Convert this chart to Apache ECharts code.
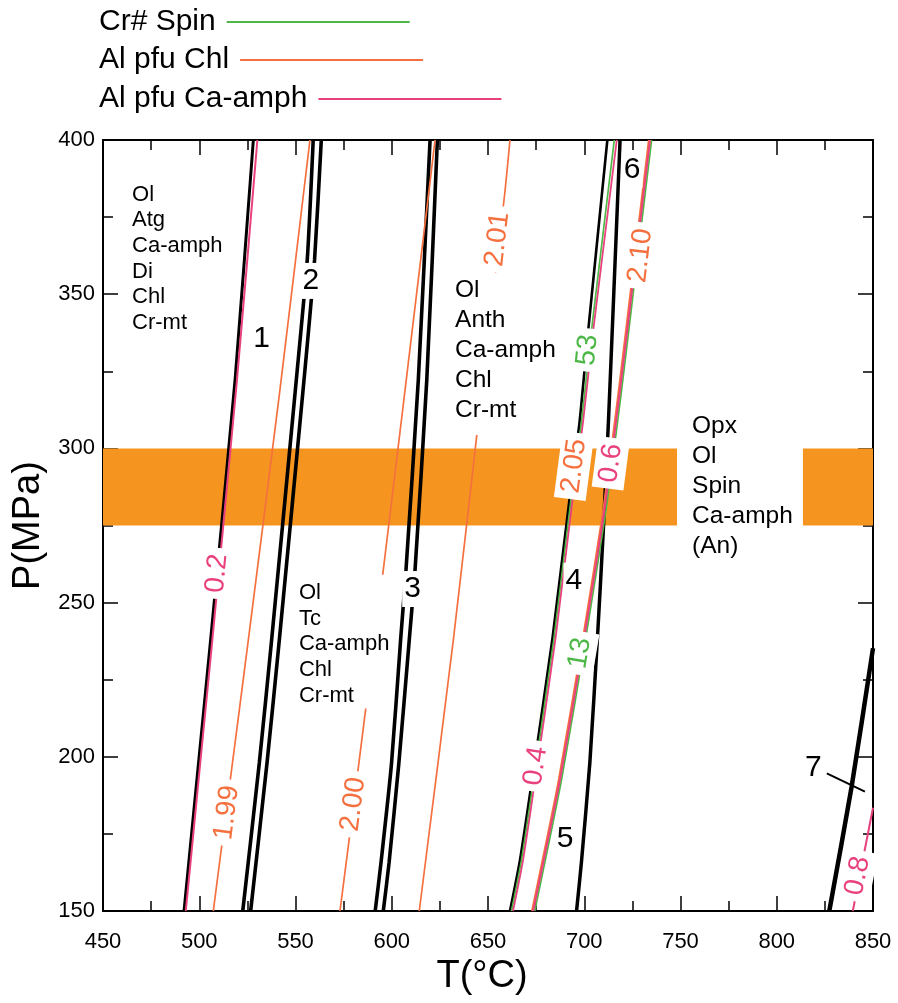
<!DOCTYPE html>
<html><head><meta charset="utf-8">
<script src="https://cdn.jsdelivr.net/npm/echarts@6/dist/echarts.min.js"></script>
<style>html,body{margin:0;padding:0;background:#fff}#c{width:898px;height:1003px}</style>
</head><body><div id="c"></div>
<script>
// ---------------- data (T in °C, P in MPa) ----------------
const bandP = [275, 300];
const bandT = [[450, 748.2], [813.6, 850]];

// reaction curves (black)
const reaction1 = [[528.1,400],[518.6,322.2],[505.9,237.9],[499.6,197.9],[492.1,150]];
const reaction2a = [[559.2,400],[556.1,361.1],[550.9,325.4],[537.6,237.9],[531.2,198.0],[522.6,150]];
const reaction2b = [[563.4,400],[559.9,361.1],[554.9,325.4],[541.6,237.9],[535.2,198.0],[526.7,150]];
const reaction3a = [[619.9,400],[613.8,322.2],[607.4,260.6],[604.6,237.9],[599.9,198.0],[594.4,165.6],[591.4,150]];
const reaction3b = [[623.7,400],[618.2,322.2],[612.1,260.6],[609.1,237.9],[603.7,198.0],[598.6,165.6],[595.6,150]];
const reaction4 = [[712.0,400],[702.1,338.4],[697.5,308.2],[692.3,283.3],[683.5,238.5],[673.5,195.1],[666.6,166.5],[661.4,150]];
const reaction56 = [[718.6,400],[715.2,348.1],[712.6,309.2],[709.9,273.5],[707.0,240.1],[702.9,198.0],[698.5,165.6],[696.0,150]];
const reaction7 = [[827.3,150],[838.9,190.3],[850.0,235.2]];
const leader7 = [[826.0,194.6],[845.8,188.7]];

// Al pfu Chl isopleths (orange)
const chl199 = [[557.5,400],[541.9,318.9],[525.5,237.9],[516.9,196.3],[507.3,150]];
const chl200 = [[622.5,400],[606.9,318.9],[595.3,259.0],[586.6,216.2],[582.6,196.3],[577.4,170.9],[573.1,150]];
const chl201 = [[661.4,400],[658.8,383.2],[644.1,303.8],[632.0,237.9],[614.3,150]];
const chl210 = [[733.5,400],[726.3,362.7],[717.9,318.9],[709.8,280.0],[699.7,240.1],[686.7,192.5],[672.8,150]];

// Al pfu Ca-amph isopleths (pink)
const amph02 = [[530.2,400],[519.6,322.2],[506.8,237.9],[500.5,197.9],[493.0,150]];
const amph04 = [[716.9,400],[704.7,338.4],[699.3,308.2],[693.9,283.3],[685.1,238.5],[675.1,195.1],[668.2,166.5],[663.0,150]];
const amph06 = [[734.2,400],[727.0,362.7],[718.6,318.9],[710.5,280.0],[700.4,240.1],[687.4,192.5],[673.5,150]];
const amph08 = [[850.0,183.5],[839.5,150]];

// Cr# Spin isopleths (green)
const spin53 = [[715.6,400],[703.8,338.4],[698.5,308.2],[693.1,283.3],[684.3,238.5],[674.3,195.1],[667.4,166.5],[662.2,150]];
const spin13 = [[735.0,400],[727.8,362.7],[719.4,318.9],[711.3,280.0],[701.2,240.1],[688.2,192.5],[674.3,150]];

// isopleth labels: [T, P, text, family]
const isoLabels = [
  [509.2, 259.5, '0.2', 'amph'],
  [514.3, 181.9, '1.99', 'chl'],
  [580.0, 184.6, '2.00', 'chl'],
  [654.9, 367.8, '2.01', 'chl'],
  [694.7, 294.3, '2.05', 'chl'],
  [713.8, 295.2, '0.6', 'amph'],
  [701.7, 331.9, '53', 'spin'],
  [729.2, 362.5, '2.10', 'chl'],
  [697.8, 233.6, '13', 'spin'],
  [674.8, 197.0, '0.4', 'amph'],
  [842.0, 161.4, '0.8', 'amph']
];
// reaction numbers: [T, P, text]
const reactionLabels = [
  [532.4,335.7,'1'],[558.0,354.3,'2'],[610.8,254.4,'3'],[694.6,257.1,'4'],
  [690.0,173.3,'5'],[724.9,390.3,'6'],[819.0,196.3,'7']
];
// assemblage fields: [T, P (top-left anchor), lines]
const fields = [
  [465.1, 386.4, ['Ol','Atg','Ca-amph','Di','Chl','Cr-mt']],
  [549.7, 259.0, ['Ol','Tc','Ca-amph','Chl','Cr-mt']],
  [630.8, 356.9, ['Ol','Anth','Ca-amph','Chl','Cr-mt']],
  [756.0, 311.9, ['Opx','Ol','Spin','Ca-amph','(An)']]
];
const legendNames = ['Cr# Spin', 'Al pfu Chl', 'Al pfu Ca-amph'];

// ---------------- styles ----------------
const FONT = '"Liberation Sans", Arial, Helvetica, sans-serif';
const C = { spin: '#4DB847', chl: '#F4703F', amph: '#E9417D', band: '#F5951F', black: '#000' };
const fieldStyle = [
  {fontSize: 22, lineHeight: 25.6, bg: null, padding: 0},
  {fontSize: 22, lineHeight: 25.75, bg: '#fff', padding: [5,4,0,4]},
  {fontSize: 24.5, lineHeight: 30, bg: '#fff', padding: [2,4,10,4]},
  {fontSize: 24.5, lineHeight: 30, bg: null, padding: 0}
];

const chart = echarts.init(document.getElementById('c'), null, {renderer: 'canvas'});

function line(name, data, color, width, z) {
  return {type: 'line', name, data, symbol: 'none', showSymbol: false, smooth: 0.2,
    lineStyle: {color, width}, itemStyle: {color}, z, silent: true, animation: false,
    xAxisIndex: 0, yAxisIndex: 0};
}

const allLines = [reaction1, reaction2a, reaction2b, reaction3a, reaction3b, reaction4, reaction56, reaction7,
  chl199, chl200, chl201, chl210, amph02, amph04, amph06, amph08, spin53, spin13];

function axisCommon(extra) {
  return Object.assign({
    type: 'value',
    axisLine: {show: true, onZero: false, lineStyle: {color: '#000', width: 2}},
    axisTick: {show: true, inside: true, length: 15, lineStyle: {color: '#000', width: 1.5}},
    minorTick: {show: true, splitNumber: 2, length: 10, lineStyle: {color: '#000', width: 1.5}},
    splitLine: {show: false}, minorSplitLine: {show: false}
  }, extra);
}

const hiddenSymbol = {color: 'rgba(0,0,0,0)', opacity: 1};

function buildLabelSeries(rotations) {
  return [
    {
      type: 'scatter', name: 'isoLabels', z: 10, silent: true, animation: false,
      symbolSize: 1, itemStyle: hiddenSymbol,
      label: {show: true, position: 'inside', fontSize: 28, fontFamily: FONT,
        backgroundColor: '#fff', padding: [2, 6], align: 'center', verticalAlign: 'middle'},
      data: isoLabels.map((l, i) => ({
        value: [l[0], l[1]],
        label: {formatter: l[2], color: C[l[3]], rotate: rotations ? rotations[i] : 80}
      }))
    },
    {
      type: 'scatter', name: 'reactionLabels', z: 10, silent: true, animation: false,
      symbolSize: 1, itemStyle: hiddenSymbol,
      label: {show: true, position: 'inside', fontSize: 30, fontFamily: FONT, color: '#000',
        backgroundColor: '#fff', padding: [3, 2], align: 'center', verticalAlign: 'middle'},
      data: reactionLabels.map(l => ({value: [l[0], l[1]], label: {formatter: l[2]}}))
    },
    {
      type: 'scatter', name: 'fields', z: 9, silent: true, animation: false,
      symbolSize: 1, itemStyle: hiddenSymbol,
      data: fields.map((f, i) => ({
        value: [f[0], f[1]],
        label: {show: true, position: 'inside', align: 'left', verticalAlign: 'top',
          formatter: f[2].join('\n'), fontFamily: FONT, color: '#000',
          fontSize: fieldStyle[i].fontSize, lineHeight: fieldStyle[i].lineHeight,
          backgroundColor: fieldStyle[i].bg || 'transparent', padding: fieldStyle[i].padding}
      }))
    }
  ];
}

const lineSeries = [
  {type: 'line', name: 'band', data: [], z: 1, silent: true, animation: false,
    markArea: {silent: true, itemStyle: {color: C.band, opacity: 1}, label: {show: false},
      data: bandT.map(([t0, t1]) => [{xAxis: t0, yAxis: bandP[0]}, {xAxis: t1, yAxis: bandP[1]}])}},
  line('r2a', reaction2a, C.black, 3.6, 3),
  line('r2b', reaction2b, C.black, 3.6, 3),
  line('r3a', reaction3a, C.black, 3.6, 3),
  line('r3b', reaction3b, C.black, 3.6, 3),
  line('r1', reaction1, C.black, 3, 3),
  line('r4', reaction4, C.black, 2.6, 3),
  line('r56', reaction56, C.black, 3.5, 3),
  line('r7', reaction7, C.black, 4.5, 3),
  line('l7', leader7, C.black, 2, 3),
  line('Al pfu Chl', chl199, C.chl, 1.7, 4),
  line('Al pfu Chl', chl200, C.chl, 1.7, 4),
  line('Al pfu Chl', chl201, C.chl, 1.7, 4),
  line('Al pfu Chl', chl210, C.chl, 1.8, 4),
  line('Cr# Spin', spin53, C.spin, 1.7, 4),
  line('Cr# Spin', spin13, C.spin, 1.7, 4),
  line('Al pfu Ca-amph', amph02, C.amph, 2, 5),
  line('Al pfu Ca-amph', amph04, C.amph, 1.8, 5),
  line('Al pfu Ca-amph', amph06, C.amph, 2, 5),
  line('Al pfu Ca-amph', amph08, C.amph, 2, 5)
];

const legendRowTop = [7, 45, 84];
const option = {
  backgroundColor: '#fff',
  animation: false,
  textStyle: {fontFamily: FONT},
  grid: {left: 103, right: 25, top: 140, bottom: 92, containLabel: false, outerBoundsMode: 'none'},
  legend: legendNames.map((n, i) => ({
    data: [n], orient: 'horizontal', left: 99, top: legendRowTop[i], align: 'right',
    icon: 'rect', itemWidth: 183, itemHeight: 2, selectedMode: false, padding: 0,
    textStyle: {fontSize: 30, color: '#000', fontFamily: FONT, padding: [0, 6, 0, 0]}
  })),
  xAxis: [
    axisCommon({min: 450, max: 850, interval: 50, position: 'bottom',
      axisLabel: {fontSize: 22, color: '#000', margin: 20, fontFamily: FONT},
      name: 'T(°C)', nameLocation: 'middle', nameGap: 45,
      nameTextStyle: {fontSize: 38, color: '#000', fontFamily: FONT, padding: [0, 12, 0, 0]}}),
    axisCommon({min: 450, max: 850, interval: 50, position: 'top', axisLabel: {show: false}})
  ],
  yAxis: [
    axisCommon({min: 150, max: 400, interval: 50, position: 'left',
      axisLabel: {fontSize: 22, color: '#000', margin: 8, fontFamily: FONT},
      name: 'P(MPa)', nameLocation: 'middle', nameGap: 52, nameRotate: 90,
      nameTextStyle: {fontSize: 38, color: '#000', fontFamily: FONT}}),
    axisCommon({min: 150, max: 400, interval: 50, position: 'right', axisLabel: {show: false}})
  ],
  series: lineSeries.concat(buildLabelSeries(null))
};
chart.setOption(option);

// rotate each isopleth label along its nearest curve (computed through the chart's own scales)
function angleAt(T, P) {
  let best = null, bd = Infinity;
  for (const ln of allLines) {
    for (let i = 0; i < ln.length - 1; i++) {
      const a = ln[i], b = ln[i + 1];
      const lo = Math.min(a[1], b[1]), hi = Math.max(a[1], b[1]);
      if (P < lo || P > hi) continue;
      const t = a[0] + (b[0] - a[0]) * (P - a[1]) / (b[1] - a[1]);
      const d = Math.abs(t - T);
      if (d < bd) { bd = d; best = [a, b]; }
    }
  }
  if (!best) return 80;
  const pa = chart.convertToPixel({gridIndex: 0}, best[0]);
  const pb = chart.convertToPixel({gridIndex: 0}, best[1]);
  let ang = Math.atan2(-(pb[1] - pa[1]), pb[0] - pa[0]) * 180 / Math.PI;
  if (ang > 90) ang -= 180;
  if (ang < -90) ang += 180;
  return ang;
}
const rotations = isoLabels.map(l => angleAt(l[0], l[1]));
option.series = lineSeries.concat(buildLabelSeries(rotations));
chart.setOption(option, true);
</script>
</body></html>
